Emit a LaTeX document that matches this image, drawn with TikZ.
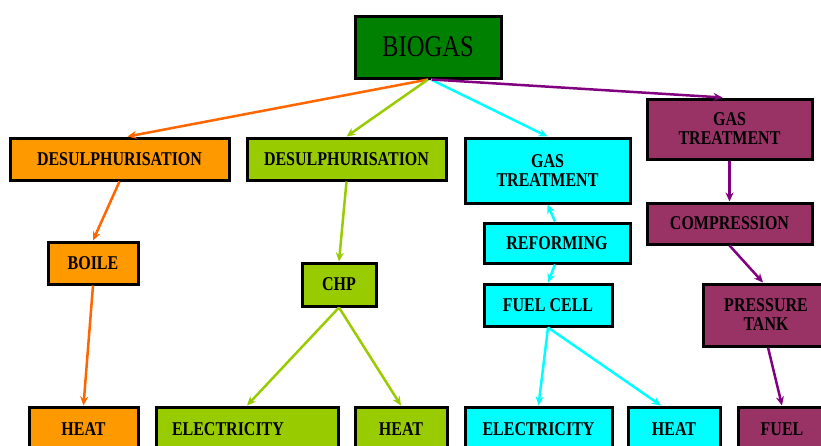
\documentclass[tikz,border=0pt]{standalone}
\usepackage{fontspec}
\usetikzlibrary{arrows.meta}
\setmainfont{Liberation Serif}
\newfontfamily\narrowserif[FakeStretch=0.82]{Liberation Serif}
\definecolor{orfill}{HTML}{FF9900}
\definecolor{orline}{HTML}{FF6600}
\definecolor{lime}{HTML}{99CC00}
\definecolor{aqua}{HTML}{00FFFF}
\definecolor{plum}{HTML}{993366}
\definecolor{plumline}{HTML}{800080}
\definecolor{biofill}{HTML}{008000}
\begin{document}
\begin{tikzpicture}[x=1pt,y=-1pt,
	box/.style={draw=black,line width=3pt,inner sep=0pt,align=center,
		font=\narrowserif\bfseries\fontsize{19.5}{19}\selectfont},
	arr/.style={-{Stealth[length=9pt,width=8pt]},line width=2.5pt}]
	\useasboundingbox (0,0) rectangle (821,445);
	\clip (0,0) rectangle (821,445);
	% top
	\node[box,fill=biofill,minimum width=146,minimum height=62,
		font=\narrowserif\fontsize{30}{32}\selectfont] (biogas) at (428,47) {BIOGAS};
	% second row
	\node[box,fill=orfill,minimum width=219,minimum height=42] (desulA) at (119.5,159) {DESULPHURISATION};
	\node[box,fill=lime,minimum width=199,minimum height=42] (desulB) at (346.5,159) {DESULPHURISATION};
	\node[box,fill=aqua,minimum width=165,minimum height=65] (treatA) at (547.5,170.5) {GAS\\TREATMENT};
	\node[box,fill=plum,minimum width=165,minimum height=60] (treatB) at (729.5,129) {GAS\\TREATMENT};
	% middle
	\node[box,fill=plum,minimum width=165,minimum height=41] (compr) at (729.5,223.5) {COMPRESSION};
	\node[box,fill=orfill,minimum width=90,minimum height=42] (boile) at (93,263) {BOILE};
	\node[box,fill=lime,minimum width=74,minimum height=43] (chp) at (339,284.5) {CHP};
	\node[box,fill=aqua,minimum width=146,minimum height=40] (reform) at (557,243) {REFORMING};
	\node[box,fill=aqua,minimum width=128,minimum height=42] (fcell) at (548,305) {FUEL CELL};
	\node[box,fill=plum,minimum width=126,minimum height=62] (ptank) at (766,315) {PRESSURE\\TANK};
	% bottom row
	\node[box,fill=orfill,minimum width=109,minimum height=44] (heatA) at (83.5,429) {HEAT};
	\node[box,fill=lime,minimum width=182,minimum height=44,text width=150,align=left] (elecB) at (247,429) {ELECTRICITY};
	\node[box,fill=lime,minimum width=92,minimum height=44] (heatB) at (401,429) {HEAT};
	\node[box,fill=aqua,minimum width=147,minimum height=44] (elecC) at (538.5,429) {ELECTRICITY};
	\node[box,fill=aqua,minimum width=92,minimum height=44] (heatC) at (674,429) {HEAT};
	\node[box,fill=plum,minimum width=88,minimum height=44] (fuel) at (782,429) {FUEL};
	% connectors
	\draw[arr,orline] (biogas.south) -- ([xshift=8]desulA.north);
	\draw[arr,orline] (desulA.south) -- (boile.north);
	\draw[arr,orline] (boile.south) -- (heatA.north);
	\draw[arr,lime] (biogas.south) -- (desulB.north);
	\draw[arr,lime] (desulB.south) -- (chp.north);
	\foreach \t in {elecB,heatB}
	\draw[arr,lime] (chp.south) -- (\t.north);
	\draw[arr,aqua] ([xshift=3]biogas.south) -- (treatA.north);
	\draw[arr,aqua] ([xshift=-2]reform.north) -- (treatA.south);
	\draw[arr,aqua] ([xshift=-2]reform.south) -- (fcell.north);
	\draw[arr,aqua] (fcell.south) -- (elecC.north);
	\draw[arr,aqua] (fcell.south) -- ([xshift=-13]heatC.north);
	\draw[arr,plumline] ([xshift=4]biogas.south) -- ([xshift=-7]treatB.north);
	\draw[arr,plumline] (treatB.south) -- (compr.north);
	\draw[arr,plumline] (compr.south) -- ([xshift=-3]ptank.north);
	\draw[arr,plumline] ([xshift=2]ptank.south) -- (fuel.north);
\end{tikzpicture}
\end{document}
